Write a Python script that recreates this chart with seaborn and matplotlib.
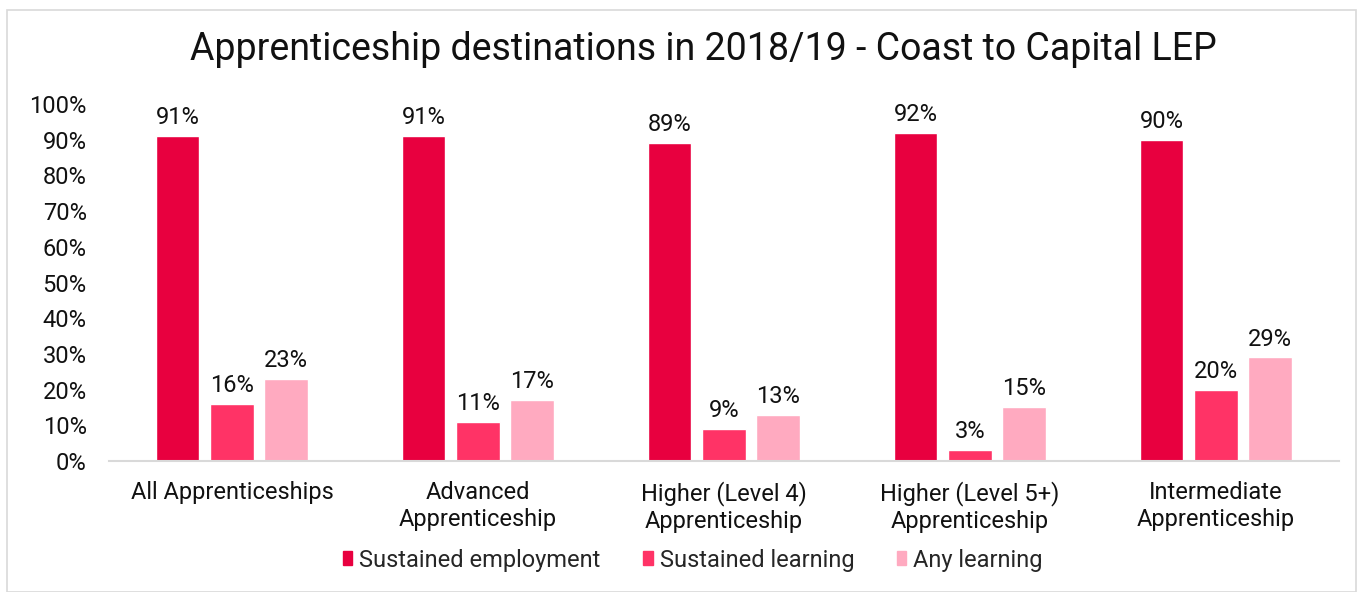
import matplotlib
matplotlib.use("Agg")
import matplotlib.pyplot as plt
import matplotlib.patches as mpatches
import seaborn as sns
import pandas as pd

categories = ["All Apprenticeships", "Advanced\nApprenticeship", "Higher (Level 4)\nApprenticeship",
              "Higher (Level 5+)\nApprenticeship", "Intermediate\nApprenticeship"]
series = ["Sustained employment", "Sustained learning", "Any learning"]
sustained_employment = [91, 91, 89, 92, 90]
sustained_learning = [16, 11, 9, 3, 20]
any_learning = [23, 17, 13, 15, 29]
colors = ["#E8003F", "#FF3366", "#FFAAC0"]
y_ticks = [0, 10, 20, 30, 40, 50, 60, 70, 80, 90, 100]

df = pd.DataFrame({
    "category": categories * 3,
    "series": [series[0]] * 5 + [series[1]] * 5 + [series[2]] * 5,
    "value": sustained_employment + sustained_learning + any_learning,
})

sns.set_theme(style="white")
plt.rcParams["font.family"] = ["Roboto", "DejaVu Sans"]

FS = 17
fig = plt.figure(figsize=(13.57, 5.92), dpi=100)
ax = fig.add_axes([0.0803, 0.2213, 0.9064, 0.603])

sns.barplot(data=df, x="category", y="value", hue="series", order=categories,
            hue_order=series, palette=colors, width=0.66, gap=0.2, ax=ax,
            legend=False, saturation=1, errorbar=None)

for container in ax.containers:
    ax.bar_label(container, labels=[f"{v:.0f}%" for v in container.datavalues],
                 padding=5, fontsize=FS, color="#111111")

ax.set_ylim(0, 100)
ax.set_yticks(y_ticks)
ax.set_yticklabels([f"{t}%" for t in y_ticks], fontsize=FS, color="#111111")
ax.tick_params(axis="x", labelsize=FS, labelcolor="#111111", pad=14.5, length=0)
ax.tick_params(axis="y", pad=16, length=0)
ax.set_xlabel("")
ax.set_ylabel("")
for side in ["top", "right", "left"]:
    ax.spines[side].set_visible(False)
ax.spines["bottom"].set_color("#D9D9D9")
ax.spines["bottom"].set_linewidth(1.5)

fig.suptitle("Apprenticeship destinations in 2018/19 - Coast to Capital LEP",
             fontsize=27, y=0.948, x=0.518, color="#111111")

handles = [mpatches.Patch(color=c, label=s) for c, s in zip(colors, series)]
fig.legend(handles=handles, loc="center", bbox_to_anchor=(0.5105, 0.054), ncol=3,
           frameon=False, fontsize=FS, handlelength=0.4, handleheight=0.55,
           handletextpad=0.3, columnspacing=1.8)

border = mpatches.Rectangle((7 / 1357, 0), 1 - 7 / 1357 - 0.0005, 1 - 10 / 592,
                            transform=fig.transFigure, fill=False,
                            edgecolor="#D9D9D9", linewidth=1.2)
fig.patches.append(border)

fig.savefig("out.png", dpi=100, facecolor="white")
